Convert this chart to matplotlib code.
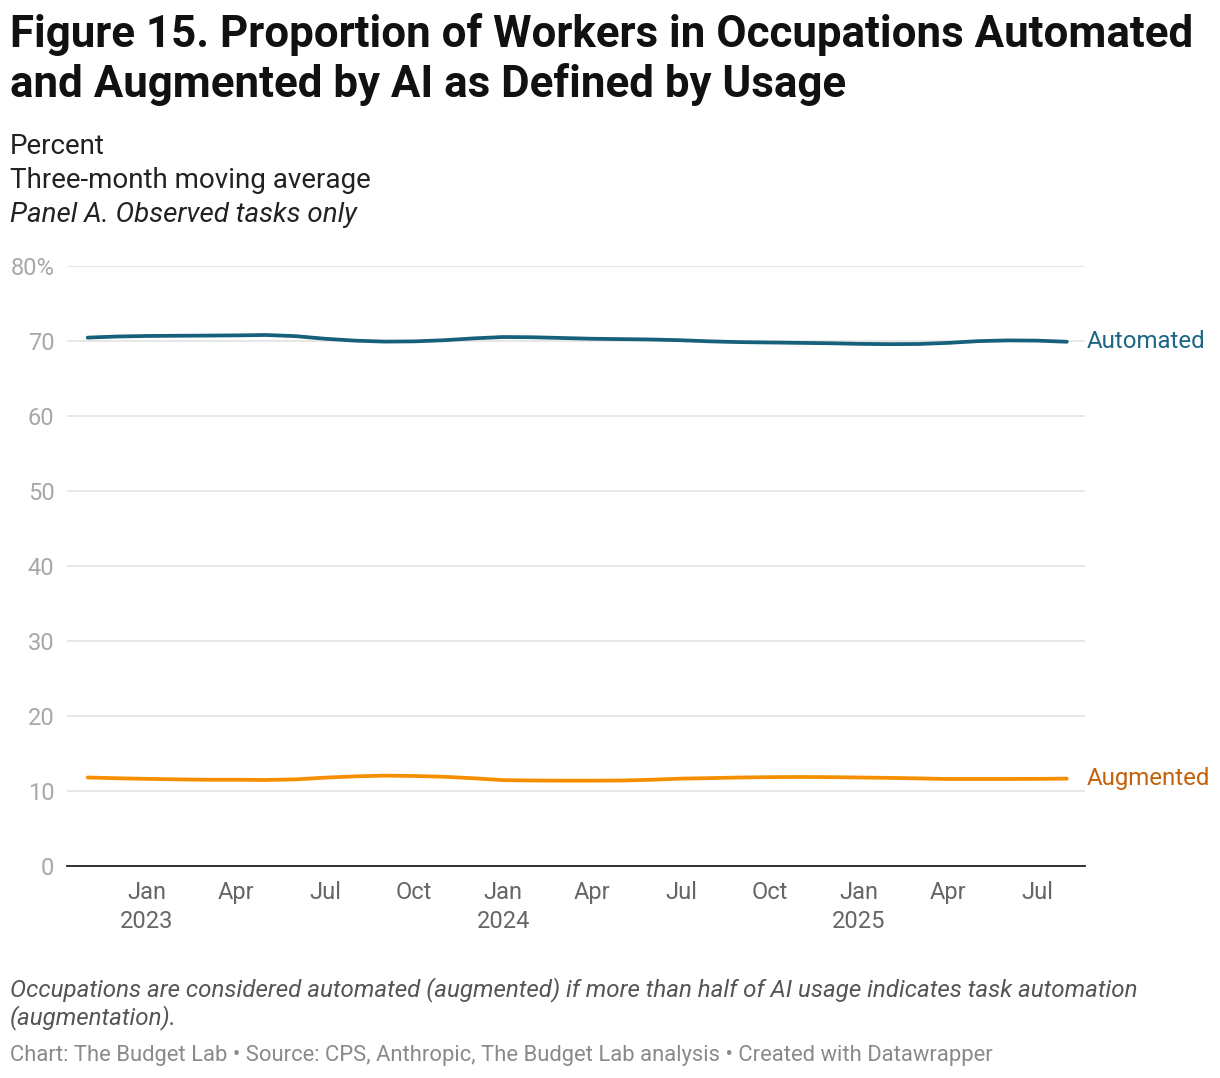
import numpy as np
import pandas as pd
import matplotlib
matplotlib.use("Agg")
from matplotlib import pyplot as plt

plt.rcParams['font.family'] = ['Roboto', 'DejaVu Sans']

# monthly, Nov 2022 .. Aug 2025 (three-month moving average, percent)
months = pd.date_range("2022-11-01", "2025-08-01", freq="MS")

automated = [70.45, 70.6, 70.67, 70.7, 70.72, 70.75, 70.8, 70.65, 70.3, 70.05,
             69.92, 69.95, 70.1, 70.35, 70.53, 70.5, 70.4, 70.3, 70.25, 70.2,
             70.1, 69.95, 69.85, 69.8, 69.75, 69.7, 69.62, 69.58, 69.6, 69.75,
             69.98, 70.08, 70.05, 69.9]

augmented = [11.8, 11.7, 11.62, 11.55, 11.5, 11.5, 11.47, 11.55, 11.78, 11.95,
             12.05, 12.0, 11.9, 11.7, 11.45, 11.4, 11.38, 11.38, 11.4, 11.5,
             11.65, 11.72, 11.8, 11.85, 11.87, 11.85, 11.8, 11.75, 11.68, 11.6,
             11.6, 11.6, 11.62, 11.65]

y_ticks = [0, 10, 20, 30, 40, 50, 60, 70, 80]
y_labels = ["0", "10", "20", "30", "40", "50", "60", "70", "80%"]

x_tick_dates = ["2023-01", "2023-04", "2023-07", "2023-10", "2024-01", "2024-04",
                "2024-07", "2024-10", "2025-01", "2025-04", "2025-07"]
x_labels = ["Jan\n2023", "Apr", "Jul", "Oct", "Jan\n2024", "Apr", "Jul", "Oct",
            "Jan\n2025", "Apr", "Jul"]

title = "Figure 15. Proportion of Workers in Occupations Automated\nand Augmented by AI as Defined by Usage"
note = ("Occupations are considered automated (augmented) if more than half of AI usage indicates task automation\n"
        "(augmentation).")
credit = "Chart: The Budget Lab \u2022 Source: CPS, Anthropic, The Budget Lab analysis \u2022 Created with Datawrapper"

W, H = 1220, 1078
fig = plt.figure(figsize=(W / 100, H / 100), dpi=100)

# axes placed in pixel terms
left, right, top, bottom = 67, 1085, 266, 866
ax = fig.add_axes([left / W, 1 - bottom / H, (right - left) / W, (bottom - top) / H])

x = np.arange(len(months))
ax.plot(x, automated, color="#15607a", lw=2.7, solid_capstyle="round", zorder=3)
ax.plot(x, augmented, color="#f68f00", lw=2.7, solid_capstyle="round", zorder=3)

step = 29.67
ax.set_xlim((left - 87.7) / step, (right - 87.7) / step)
ax.set_ylim(0, 80)

tick_pos = [months.get_loc(pd.Timestamp(d + "-01")) for d in x_tick_dates]
ax.set_xticks(tick_pos)
ax.set_xticklabels(x_labels, fontsize=17, color="#666666", linespacing=1.32)
ax.set_yticks(y_ticks)
ax.set_yticklabels(y_labels, fontsize=17, color="#a8a8a8")
ax.tick_params(axis="x", length=0, pad=11)
ax.tick_params(axis="y", length=0, pad=9)
for lbl in ax.get_xticklabels():
    lbl.set_verticalalignment("top")

ax.grid(axis="y", color="#e3e3e3", lw=1.2, zorder=0)
for s in ["top", "right", "left"]:
    ax.spines[s].set_visible(False)
ax.spines["bottom"].set_color("#222222")
ax.spines["bottom"].set_linewidth(1.3)
ax.spines["bottom"].set_zorder(4)

# line end labels
ax.annotate("Automated", xy=(x[-1], automated[-1]), xytext=(14, 0), textcoords="offset points",
            fontsize=17.3, color="#1b6784", va="center", ha="left", annotation_clip=False)
ax.annotate("Augmented", xy=(x[-1], augmented[-1]), xytext=(14, 0), textcoords="offset points",
            fontsize=17.3, color="#c4620a", va="center", ha="left", annotation_clip=False)

# header text
fig.text(10 / W, 1 - 35 / H, title.split("\n")[0], fontsize=31.6, fontweight="bold",
         color="#111111", va="center", ha="left")
fig.text(10 / W, 1 - 85 / H, title.split("\n")[1], fontsize=31.6, fontweight="bold",
         color="#111111", va="center", ha="left")
fig.text(10 / W, 1 - 147 / H, "Percent", fontsize=20, color="#222222", va="center")
fig.text(10 / W, 1 - 181 / H, "Three-month moving average", fontsize=20, color="#222222", va="center")
fig.text(10 / W, 1 - 215 / H, "Panel A. Observed tasks only", fontsize=20, color="#222222",
         va="center", style="italic")

# footer
fig.text(10 / W, 1 - 990 / H, note.split("\n")[0], fontsize=17.4, color="#555555",
         style="italic", va="center")
fig.text(10 / W, 1 - 1018 / H, note.split("\n")[1], fontsize=17.4, color="#555555",
         style="italic", va="center")
fig.text(10 / W, 1 - 1055 / H, credit, fontsize=15.8, color="#8a8a8a", va="center")

fig.savefig("out.png", dpi=100, facecolor="white")
